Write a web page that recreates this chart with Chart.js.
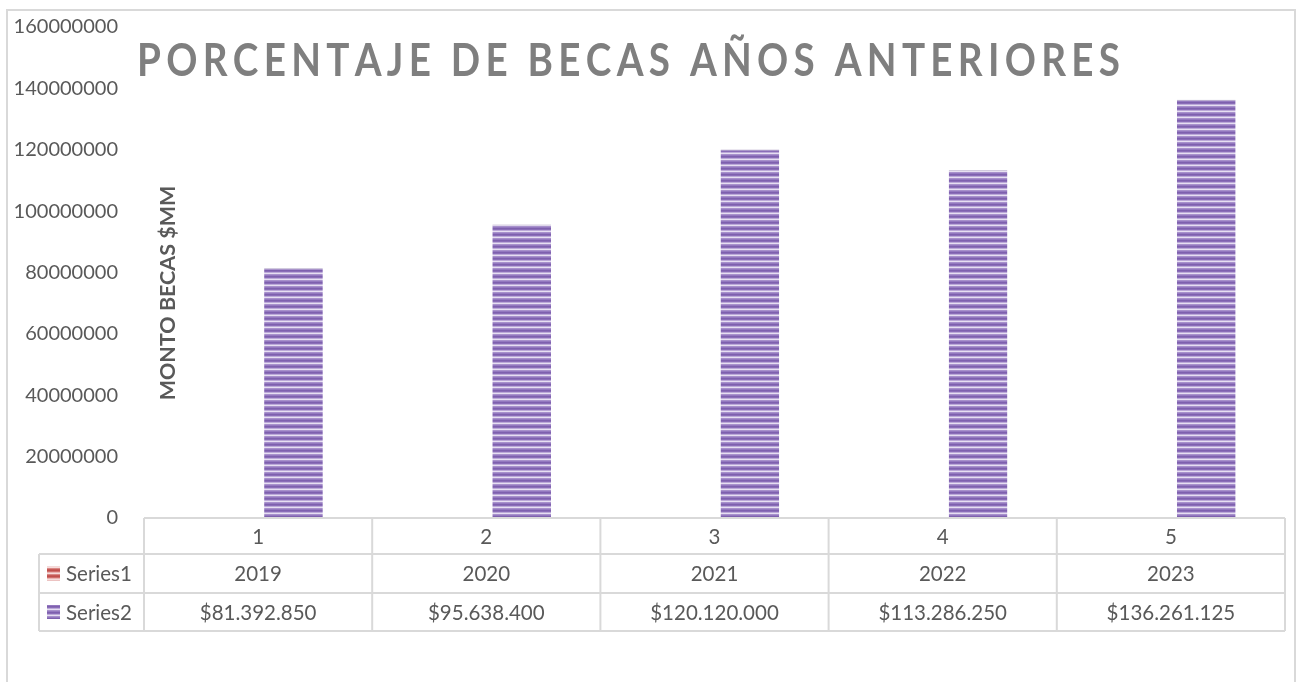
<!DOCTYPE html>
<html lang="es">
<head>
<meta charset="utf-8">
<title>Porcentaje de becas años anteriores</title>
<script src="https://cdn.jsdelivr.net/npm/chart.js@4/dist/chart.umd.min.js"></script>
<style>
  html, body { margin: 0; padding: 0; background: #ffffff; }
  #grafico-becas { display: block; }
</style>
</head>
<body>
<canvas id="grafico-becas" width="1301" height="682"></canvas>
<script>
/* ── DATOS ─────────────────────────────────────────────────── */
const categorias   = ['1', '2', '3', '4', '5'];
const anios        = [2019, 2020, 2021, 2022, 2023];
const montos       = [81392850, 95638400, 120120000, 113286250, 136261125];
const nombreSeries = ['Series1', 'Series2'];
const ticksY       = [0, 20000000, 40000000, 60000000, 80000000, 100000000, 120000000, 140000000, 160000000];

const TITULO     = 'PORCENTAJE DE BECAS AÑOS ANTERIORES';
const TITULO_EJE = 'MONTO BECAS $MM';

const GRIS_TEXTO = '#595959';
const GRIS_LINEA = '#d9d9d9';
const FUENTE     = 'Lato, "Open Sans", sans-serif';

// $81.392.850
function formatoPeso(v) {
  return '$' + String(v).replace(/\B(?=(\d{3})+(?!\d))/g, '.');
}

/* ── PATRÓN DE FRANJAS (relleno tipo Excel) ───────────────── */
function patronFranjas(colores) {
  const c = document.createElement('canvas');
  c.width = 8;
  c.height = colores.length;
  const g = c.getContext('2d');
  colores.forEach((col, i) => {
    g.fillStyle = col;
    g.fillRect(0, i, 8, 1);
  });
  return g.createPattern(c, 'repeat');
}

const ctx = document.getElementById('grafico-becas').getContext('2d');
const franjaMorada = patronFranjas(['#7e60ae', '#8a6db8', '#bba9d8', '#e6def2', '#a891cc', '#9378bf']);
const franjaRoja   = patronFranjas(['#c0504d', '#cf6e6b', '#eab4b2', '#f6dcdb', '#d98885', '#c65a57']);

/* ── TÍTULO Y TÍTULO DEL EJE ──────────────────────────────── */
const textosPlugin = {
  id: 'textos',
  beforeDraw(chart) {
    const c = chart.ctx;
    // marco exterior del gráfico
    c.save();
    c.strokeStyle = GRIS_LINEA;
    c.lineWidth = 2;
    c.strokeRect(7, 10, 1288, 720);
    c.restore();
  },
  afterDraw(chart) {
    const c = chart.ctx;
    c.save();

    // título espaciado (letras algo angostas, como Calibri)
    const angosto = 0.84;
    c.font = 'bold 46px ' + FUENTE;
    c.fillStyle = '#7f7f7f';
    c.textBaseline = 'alphabetic';
    c.textAlign = 'left';
    const letras = Array.from(TITULO);
    const anchos = letras.map(l => c.measureText(l).width * angosto);
    const total  = anchos.reduce((a, b) => a + b, 0);
    const xIni = 137, xFin = 1120;
    const esp  = (xFin - xIni - total) / (letras.length - 1);
    let x = xIni;
    letras.forEach((l, i) => {
      c.save();
      c.translate(x, 76);
      c.scale(angosto, 1);
      c.fillText(l, 0, 0);
      c.restore();
      x += anchos[i] + esp;
    });

    // título del eje Y (rotado, dentro del área)
    c.translate(168, 293);
    c.rotate(-Math.PI / 2);
    c.font = 'bold 21.5px ' + FUENTE;
    c.fillStyle = GRIS_TEXTO;
    c.textAlign = 'center';
    c.textBaseline = 'middle';
    c.fillText(TITULO_EJE, 0, 0);
    c.restore();
  }
};

/* ── TABLA DE DATOS BAJO EL GRÁFICO ───────────────────────── */
const tablaPlugin = {
  id: 'tablaDatos',
  afterDraw(chart) {
    const c  = chart.ctx;
    const sx = chart.scales.x;
    const area = chart.chartArea;

    const yTop = area.bottom;
    const filas = [yTop, yTop + 36, yTop + 75, yTop + 113];
    const xLeyenda = 39;
    const bordes = [];
    for (let i = 0; i <= categorias.length; i++) {
      bordes.push(sx.getPixelForValue(i - 0.5));
    }

    c.save();
    c.strokeStyle = GRIS_LINEA;
    c.lineWidth = 2;
    c.beginPath();
    // horizontales
    c.moveTo(bordes[0], filas[0]); c.lineTo(bordes[bordes.length - 1], filas[0]);
    for (let f = 1; f < filas.length; f++) {
      c.moveTo(xLeyenda, filas[f]);
      c.lineTo(bordes[bordes.length - 1], filas[f]);
    }
    // verticales
    bordes.forEach(b => { c.moveTo(b, filas[0]); c.lineTo(b, filas[3]); });
    c.moveTo(xLeyenda, filas[1]); c.lineTo(xLeyenda, filas[3]);
    c.stroke();

    // textos
    c.font = '20.5px ' + FUENTE;
    c.fillStyle = GRIS_TEXTO;
    c.textBaseline = 'middle';
    c.textAlign = 'center';
    const filaTextos = [categorias, anios.map(String), montos.map(formatoPeso)];
    filaTextos.forEach((vals, f) => {
      const yc = (filas[f] + filas[f + 1]) / 2 + 1;
      vals.forEach((t, i) => c.fillText(t, sx.getPixelForValue(i), yc));
    });

    // leyenda en la tabla
    const patrones = [franjaRoja, franjaMorada];
    nombreSeries.forEach((n, s) => {
      const yc = (filas[s + 1] + filas[s + 2]) / 2;
      c.fillStyle = patrones[s];
      c.fillRect(47, yc - 7, 13, 14);
      c.fillStyle = GRIS_TEXTO;
      c.textAlign = 'left';
      c.fillText(n, 66, yc + 1);
    });
    c.restore();
  }
};

/* ── GRÁFICO ──────────────────────────────────────────────── */
new Chart(ctx, {
  type: 'bar',
  data: {
    labels: categorias,
    datasets: [
      {
        label: nombreSeries[0],
        data: anios,
        backgroundColor: franjaRoja,
        categoryPercentage: 0.62,
        barPercentage: 0.83,
      },
      {
        label: nombreSeries[1],
        data: montos,
        backgroundColor: franjaMorada,
        borderColor: 'rgba(110,84,150,0.55)',
        borderWidth: { top: 1, left: 0, right: 0, bottom: 0 },
        borderSkipped: false,
        categoryPercentage: 0.62,
        barPercentage: 0.83,
      }
    ]
  },
  options: {
    responsive: false,
    devicePixelRatio: 1,
    animation: false,
    layout: { padding: { left: 0, top: 27, right: 16, bottom: 164 } },
    plugins: {
      legend: { display: false },
      title: { display: false },
      tooltip: { enabled: false },
    },
    scales: {
      x: {
        display: false,
        offset: true,
      },
      y: {
        min: ticksY[0],
        max: ticksY[ticksY.length - 1],
        afterBuildTicks: (scale) => { scale.ticks = ticksY.map(v => ({ value: v })); },
        afterFit: (scale) => {
          // ancho fijo del eje y sin reserva extra arriba/abajo
          scale.width = 144;
          scale.paddingTop = 12;
          scale.paddingBottom = 12;
        },
        grid: { display: false, drawTicks: false },
        border: { display: false },
        ticks: {
          padding: 26,
          color: GRIS_TEXTO,
          font: { family: FUENTE, size: 20 },
          callback: (v) => String(v),
        }
      }
    }
  },
  plugins: [textosPlugin, tablaPlugin]
});
</script>
</body>
</html>
